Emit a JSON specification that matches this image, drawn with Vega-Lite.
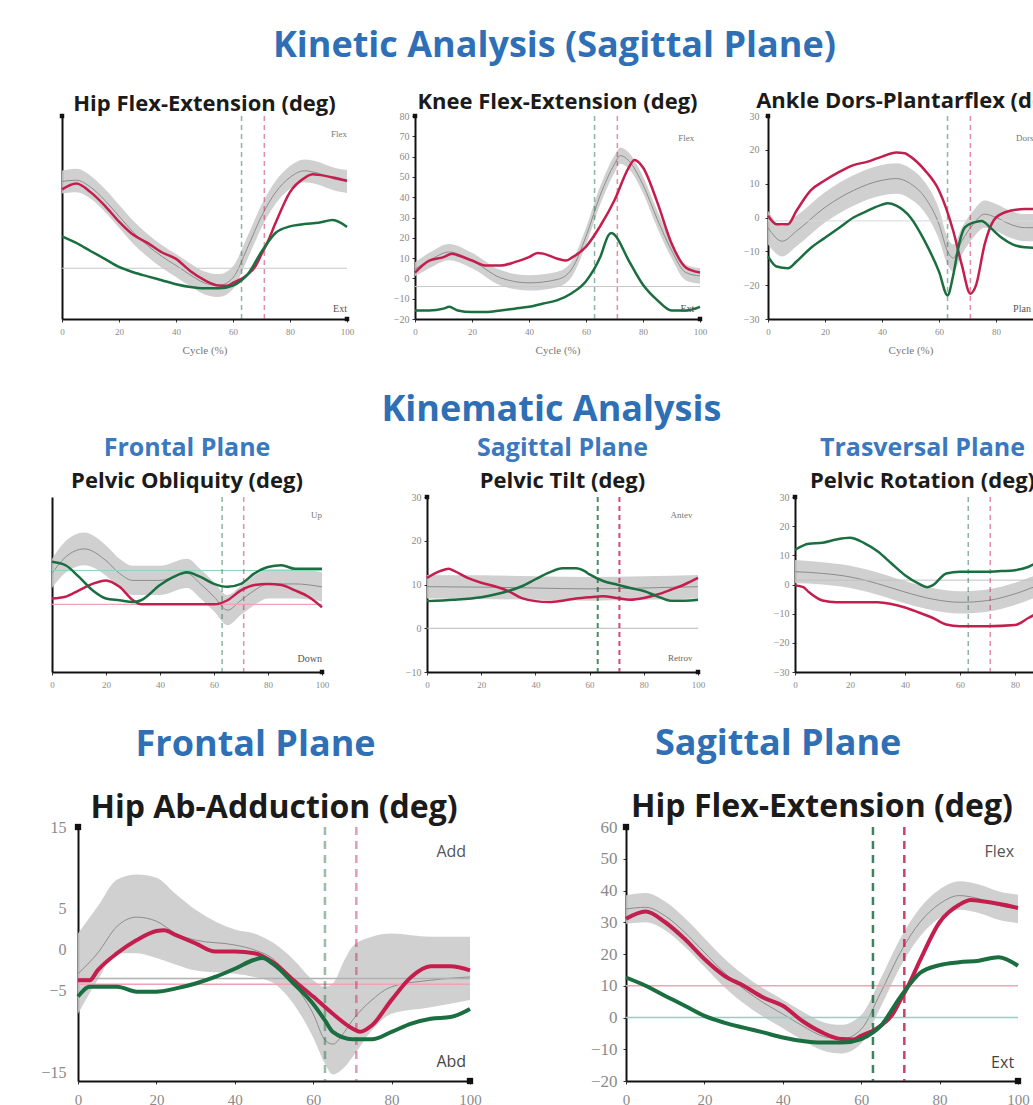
{
  "$schema": "https://vega.github.io/schema/vega-lite/v6.json",
  "background": "white",
  "padding": {"left": 2, "top": 28, "right": 0, "bottom": 0},
  "columns": 1,
  "spacing": 37,
  "config": {
    "view": {"stroke": null},
    "axis": {"grid": false, "domainColor": "#111111", "domainWidth": 2, "tickColor": "#333333", "labelFont": "Liberation Serif", "labelColor": "#8a8a8a", "labelOverlap": false, "titleFont": "Liberation Serif", "titleColor": "#777777", "titleFontWeight": "normal"},
    "title": {"font": "Open Sans", "fontWeight": "bold"}
  },
  "datasets": {
    "events": [{"side": "Right", "pct": 63}, {"side": "Left", "pct": 71}],
    "hip_norm": [
      {"x": 0, "mean": 34.2, "lo": 29.5, "hi": 38.5}, {"x": 5, "mean": 34.7, "lo": 30, "hi": 39.2}, {"x": 10, "mean": 32, "lo": 27.5, "hi": 36.5},
      {"x": 15, "mean": 26.8, "lo": 22.3, "hi": 31.3}, {"x": 20, "mean": 20.5, "lo": 16, "hi": 25}, {"x": 25, "mean": 14.2, "lo": 9.7, "hi": 18.7},
      {"x": 30, "mean": 9, "lo": 4.5, "hi": 13.5}, {"x": 35, "mean": 4.7, "lo": 0.2, "hi": 9.2}, {"x": 40, "mean": 1.1, "lo": -3.4, "hi": 5.6},
      {"x": 45, "mean": -2.6, "lo": -7.1, "hi": 1.9}, {"x": 50, "mean": -5.8, "lo": -10.3, "hi": -1.3}, {"x": 55, "mean": -6.8, "lo": -11.3, "hi": -2.3},
      {"x": 60, "mean": -3.7, "lo": -8.2, "hi": 0.8}, {"x": 65, "mean": 7.9, "lo": 3.4, "hi": 12.4}, {"x": 70, "mean": 20.5, "lo": 16, "hi": 25},
      {"x": 75, "mean": 30, "lo": 25.5, "hi": 34.5}, {"x": 80, "mean": 35.8, "lo": 31.3, "hi": 40.3}, {"x": 85, "mean": 38.4, "lo": 33.9, "hi": 42.9},
      {"x": 90, "mean": 37.4, "lo": 32.9, "hi": 41.9}, {"x": 95, "mean": 35.3, "lo": 30.8, "hi": 39.8}, {"x": 100, "mean": 34.2, "lo": 29.7, "hi": 38.7}
    ],
    "hip_sides": [
      {"x": 0, "side": "Left", "deg": 31.1}, {"x": 5, "side": "Left", "deg": 33.4}, {"x": 10, "side": "Left", "deg": 30}, {"x": 15, "side": "Left", "deg": 24.7},
      {"x": 20, "side": "Left", "deg": 18.4}, {"x": 25, "side": "Left", "deg": 13.2}, {"x": 30, "side": "Left", "deg": 10}, {"x": 35, "side": "Left", "deg": 6.3},
      {"x": 40, "side": "Left", "deg": 3.7}, {"x": 45, "side": "Left", "deg": -1.1}, {"x": 50, "side": "Left", "deg": -4.7}, {"x": 55, "side": "Left", "deg": -6.8},
      {"x": 58, "side": "Left", "deg": -6.9}, {"x": 60, "side": "Left", "deg": -5.8}, {"x": 65, "side": "Left", "deg": -2.6}, {"x": 68, "side": "Left", "deg": 1},
      {"x": 70, "side": "Left", "deg": 5.5}, {"x": 72, "side": "Left", "deg": 10}, {"x": 75, "side": "Left", "deg": 18}, {"x": 80, "side": "Left", "deg": 30},
      {"x": 85, "side": "Left", "deg": 35.5}, {"x": 88, "side": "Left", "deg": 37}, {"x": 90, "side": "Left", "deg": 36.8}, {"x": 95, "side": "Left", "deg": 35.8},
      {"x": 100, "side": "Left", "deg": 34.5},
      {"x": 0, "side": "Right", "deg": 12.6}, {"x": 5, "side": "Right", "deg": 10}, {"x": 10, "side": "Right", "deg": 6.8}, {"x": 15, "side": "Right", "deg": 3.7},
      {"x": 20, "side": "Right", "deg": 0.5}, {"x": 25, "side": "Right", "deg": -1.6}, {"x": 30, "side": "Right", "deg": -3.2}, {"x": 35, "side": "Right", "deg": -4.7},
      {"x": 40, "side": "Right", "deg": -6.3}, {"x": 45, "side": "Right", "deg": -7.4}, {"x": 50, "side": "Right", "deg": -7.9}, {"x": 55, "side": "Right", "deg": -7.9},
      {"x": 60, "side": "Right", "deg": -6.8}, {"x": 63, "side": "Right", "deg": -4.7}, {"x": 65, "side": "Right", "deg": -2.6}, {"x": 70, "side": "Right", "deg": 6.5},
      {"x": 75, "side": "Right", "deg": 14}, {"x": 80, "side": "Right", "deg": 16.5}, {"x": 85, "side": "Right", "deg": 17.4}, {"x": 90, "side": "Right", "deg": 17.9},
      {"x": 95, "side": "Right", "deg": 19}, {"x": 100, "side": "Right", "deg": 16.3}
    ],
    "knee_norm": [
      {"x": 0, "mean": 4.6, "lo": 1, "hi": 8}, {"x": 5, "mean": 8.8, "lo": 5, "hi": 12.6}, {"x": 12, "mean": 13, "lo": 9, "hi": 17},
      {"x": 20, "mean": 8.8, "lo": 5, "hi": 12.6}, {"x": 30, "mean": 0.3, "lo": -3.5, "hi": 4.1}, {"x": 40, "mean": -2.2, "lo": -6, "hi": 1.6},
      {"x": 50, "mean": -0.5, "lo": -4.3, "hi": 3.3}, {"x": 55, "mean": 4.6, "lo": 0.8, "hi": 8.4}, {"x": 60, "mean": 20.7, "lo": 16.5, "hi": 25},
      {"x": 65, "mean": 41, "lo": 36.5, "hi": 45.5}, {"x": 70, "mean": 56.3, "lo": 52, "hi": 60.6}, {"x": 72, "mean": 60.5, "lo": 56.5, "hi": 64.5},
      {"x": 75, "mean": 58, "lo": 54, "hi": 62}, {"x": 80, "mean": 46.1, "lo": 42, "hi": 50.2}, {"x": 85, "mean": 29.2, "lo": 25, "hi": 33.4},
      {"x": 90, "mean": 13.9, "lo": 10, "hi": 17.8}, {"x": 95, "mean": 2.9, "lo": -1, "hi": 6.8}, {"x": 100, "mean": 1.2, "lo": -2.6, "hi": 5}
    ],
    "knee_sides": [
      {"x": 0, "side": "Left", "deg": 2.9}, {"x": 5, "side": "Left", "deg": 8.8}, {"x": 10, "side": "Left", "deg": 10.5}, {"x": 13, "side": "Left", "deg": 12.2},
      {"x": 15, "side": "Left", "deg": 11.4}, {"x": 20, "side": "Left", "deg": 8.8}, {"x": 25, "side": "Left", "deg": 6.3}, {"x": 30, "side": "Left", "deg": 6.3},
      {"x": 35, "side": "Left", "deg": 8}, {"x": 40, "side": "Left", "deg": 10.5}, {"x": 43, "side": "Left", "deg": 12.5}, {"x": 45, "side": "Left", "deg": 12.2},
      {"x": 50, "side": "Left", "deg": 9.7}, {"x": 53, "side": "Left", "deg": 8.8}, {"x": 55, "side": "Left", "deg": 10.2}, {"x": 60, "side": "Left", "deg": 15.6},
      {"x": 65, "side": "Left", "deg": 25.8}, {"x": 70, "side": "Left", "deg": 38.5}, {"x": 75, "side": "Left", "deg": 54.6}, {"x": 77, "side": "Left", "deg": 58.3},
      {"x": 80, "side": "Left", "deg": 54.6}, {"x": 85, "side": "Left", "deg": 37.6}, {"x": 90, "side": "Left", "deg": 17.3}, {"x": 95, "side": "Left", "deg": 5.4},
      {"x": 100, "side": "Left", "deg": 2.9},
      {"x": 0, "side": "Right", "deg": -15.8}, {"x": 5, "side": "Right", "deg": -15.8}, {"x": 10, "side": "Right", "deg": -14.9}, {"x": 12, "side": "Right", "deg": -14},
      {"x": 15, "side": "Right", "deg": -15.8}, {"x": 20, "side": "Right", "deg": -16.6}, {"x": 25, "side": "Right", "deg": -16.6}, {"x": 30, "side": "Right", "deg": -15.8},
      {"x": 35, "side": "Right", "deg": -14.9}, {"x": 40, "side": "Right", "deg": -14}, {"x": 45, "side": "Right", "deg": -12.4}, {"x": 50, "side": "Right", "deg": -10.7},
      {"x": 55, "side": "Right", "deg": -7.3}, {"x": 60, "side": "Right", "deg": -1.4}, {"x": 65, "side": "Right", "deg": 10.5}, {"x": 68, "side": "Right", "deg": 21.5},
      {"x": 69, "side": "Right", "deg": 22.4}, {"x": 70, "side": "Right", "deg": 21.5}, {"x": 75, "side": "Right", "deg": 8.8}, {"x": 80, "side": "Right", "deg": -3.1},
      {"x": 85, "side": "Right", "deg": -10.7}, {"x": 90, "side": "Right", "deg": -15.8}, {"x": 95, "side": "Right", "deg": -15.8}, {"x": 100, "side": "Right", "deg": -14}
    ],
    "ankle_norm": [
      {"x": 0, "mean": -3, "lo": -8, "hi": 2}, {"x": 5, "mean": -7, "lo": -11.5, "hi": -2.5}, {"x": 10, "mean": -4, "lo": -8.5, "hi": 0.5},
      {"x": 20, "mean": 3, "lo": -1.5, "hi": 7.5}, {"x": 30, "mean": 8, "lo": 3.5, "hi": 12.5}, {"x": 40, "mean": 11, "lo": 6.5, "hi": 15.5},
      {"x": 45, "mean": 11.5, "lo": 7, "hi": 16}, {"x": 50, "mean": 10, "lo": 5.5, "hi": 14.5}, {"x": 55, "mean": 6, "lo": 1.5, "hi": 10.5},
      {"x": 60, "mean": -2, "lo": -6.5, "hi": 2.5}, {"x": 63, "mean": -10, "lo": -14, "hi": -6}, {"x": 65, "mean": -12, "lo": -16, "hi": -8},
      {"x": 68, "mean": -7, "lo": -11, "hi": -3}, {"x": 72, "mean": -2, "lo": -6, "hi": 2}, {"x": 76, "mean": 1, "lo": -3, "hi": 5},
      {"x": 80, "mean": 0, "lo": -4, "hi": 4}, {"x": 85, "mean": -2, "lo": -6, "hi": 2}, {"x": 90, "mean": -3, "lo": -7, "hi": 1}, {"x": 100, "mean": -3, "lo": -7, "hi": 1}
    ],
    "ankle_sides": [
      {"x": 0, "side": "Left", "deg": 0.5}, {"x": 3, "side": "Left", "deg": -2}, {"x": 7, "side": "Left", "deg": -2}, {"x": 10, "side": "Left", "deg": 2},
      {"x": 15, "side": "Left", "deg": 8}, {"x": 20, "side": "Left", "deg": 11}, {"x": 25, "side": "Left", "deg": 13.5}, {"x": 30, "side": "Left", "deg": 15.5},
      {"x": 35, "side": "Left", "deg": 16.5}, {"x": 40, "side": "Left", "deg": 18}, {"x": 45, "side": "Left", "deg": 19.2}, {"x": 48, "side": "Left", "deg": 19},
      {"x": 50, "side": "Left", "deg": 18}, {"x": 55, "side": "Left", "deg": 14}, {"x": 60, "side": "Left", "deg": 8}, {"x": 65, "side": "Left", "deg": -4},
      {"x": 68, "side": "Left", "deg": -14}, {"x": 71, "side": "Left", "deg": -22.5}, {"x": 73, "side": "Left", "deg": -20}, {"x": 76, "side": "Left", "deg": -8},
      {"x": 80, "side": "Left", "deg": 0}, {"x": 85, "side": "Left", "deg": 2}, {"x": 90, "side": "Left", "deg": 2.5}, {"x": 95, "side": "Left", "deg": 2.5},
      {"x": 100, "side": "Left", "deg": 2},
      {"x": 0, "side": "Right", "deg": -11.5}, {"x": 3, "side": "Right", "deg": -14.5}, {"x": 7, "side": "Right", "deg": -15}, {"x": 10, "side": "Right", "deg": -13},
      {"x": 15, "side": "Right", "deg": -9}, {"x": 20, "side": "Right", "deg": -6}, {"x": 25, "side": "Right", "deg": -3}, {"x": 30, "side": "Right", "deg": 0},
      {"x": 35, "side": "Right", "deg": 2}, {"x": 40, "side": "Right", "deg": 3.8}, {"x": 42, "side": "Right", "deg": 4.2}, {"x": 45, "side": "Right", "deg": 3.5},
      {"x": 50, "side": "Right", "deg": 0}, {"x": 55, "side": "Right", "deg": -7}, {"x": 60, "side": "Right", "deg": -16}, {"x": 63, "side": "Right", "deg": -23},
      {"x": 65, "side": "Right", "deg": -17}, {"x": 67, "side": "Right", "deg": -8}, {"x": 69, "side": "Right", "deg": -3}, {"x": 72, "side": "Right", "deg": -1.5},
      {"x": 75, "side": "Right", "deg": -1}, {"x": 78, "side": "Right", "deg": -3}, {"x": 82, "side": "Right", "deg": -6}, {"x": 86, "side": "Right", "deg": -8},
      {"x": 90, "side": "Right", "deg": -8.8}, {"x": 95, "side": "Right", "deg": -9}, {"x": 100, "side": "Right", "deg": -8.5}
    ],
    "obl_norm": [
      {"x": 0, "mean": 1.9, "lo": -0.6, "hi": 4.4}, {"x": 5, "mean": 4.7, "lo": 2, "hi": 7.4}, {"x": 12, "mean": 6.1, "lo": 3.3, "hi": 8.9},
      {"x": 20, "mean": 4.1, "lo": 1.5, "hi": 6.7}, {"x": 25, "mean": 1.9, "lo": -0.6, "hi": 4.4}, {"x": 30, "mean": 0.7, "lo": -1.8, "hi": 3.2},
      {"x": 40, "mean": 0.7, "lo": -1.8, "hi": 3.2}, {"x": 50, "mean": 1.9, "lo": -0.6, "hi": 4.4}, {"x": 55, "mean": 0.1, "lo": -2.4, "hi": 2.6},
      {"x": 60, "mean": -2.1, "lo": -4.6, "hi": 0.4}, {"x": 65, "mean": -4.4, "lo": -7, "hi": -1.8}, {"x": 70, "mean": -2.7, "lo": -5.2, "hi": -0.2},
      {"x": 75, "mean": -1, "lo": -3.5, "hi": 1.5}, {"x": 80, "mean": 0.1, "lo": -2.4, "hi": 2.6}, {"x": 90, "mean": 0.1, "lo": -2.4, "hi": 2.6},
      {"x": 100, "mean": -0.4, "lo": -2.9, "hi": 2.1}
    ],
    "obl_sides": [
      {"x": 0, "side": "Left", "deg": -2.4}, {"x": 5, "side": "Left", "deg": -2.1}, {"x": 10, "side": "Left", "deg": -1}, {"x": 15, "side": "Left", "deg": 0.1},
      {"x": 20, "side": "Left", "deg": 0.7}, {"x": 25, "side": "Left", "deg": -0.4}, {"x": 30, "side": "Left", "deg": -2.7}, {"x": 33, "side": "Left", "deg": -3.4},
      {"x": 40, "side": "Left", "deg": -3.4}, {"x": 50, "side": "Left", "deg": -3.4}, {"x": 60, "side": "Left", "deg": -3.4}, {"x": 65, "side": "Left", "deg": -2.7},
      {"x": 70, "side": "Left", "deg": -1}, {"x": 75, "side": "Left", "deg": -0.1}, {"x": 80, "side": "Left", "deg": 0.1}, {"x": 85, "side": "Left", "deg": -0.1},
      {"x": 90, "side": "Left", "deg": -1}, {"x": 95, "side": "Left", "deg": -2.1}, {"x": 100, "side": "Left", "deg": -3.9},
      {"x": 0, "side": "Right", "deg": 3.9}, {"x": 5, "side": "Right", "deg": 3.3}, {"x": 10, "side": "Right", "deg": 1.3}, {"x": 15, "side": "Right", "deg": -1},
      {"x": 20, "side": "Right", "deg": -2.4}, {"x": 25, "side": "Right", "deg": -2.7}, {"x": 30, "side": "Right", "deg": -3}, {"x": 33, "side": "Right", "deg": -2.7},
      {"x": 40, "side": "Right", "deg": -0.1}, {"x": 45, "side": "Right", "deg": 1.3}, {"x": 50, "side": "Right", "deg": 2.1}, {"x": 55, "side": "Right", "deg": 1.3},
      {"x": 60, "side": "Right", "deg": 0.1}, {"x": 65, "side": "Right", "deg": -0.4}, {"x": 70, "side": "Right", "deg": 0.1}, {"x": 75, "side": "Right", "deg": 1.9},
      {"x": 80, "side": "Right", "deg": 3}, {"x": 85, "side": "Right", "deg": 3.3}, {"x": 90, "side": "Right", "deg": 2.7}, {"x": 95, "side": "Right", "deg": 2.7},
      {"x": 100, "side": "Right", "deg": 2.7}
    ],
    "tilt_norm": [
      {"x": 0, "mean": 9.5, "lo": 6.8, "hi": 12.2}, {"x": 20, "mean": 9.4, "lo": 6.7, "hi": 12.1}, {"x": 40, "mean": 9.2, "lo": 6.5, "hi": 11.9},
      {"x": 60, "mean": 9, "lo": 6.3, "hi": 11.7}, {"x": 80, "mean": 9.2, "lo": 6.5, "hi": 11.9}, {"x": 100, "mean": 9.5, "lo": 6.8, "hi": 12.2}
    ],
    "tilt_sides": [
      {"x": 0, "side": "Left", "deg": 11.5}, {"x": 5, "side": "Left", "deg": 13.1}, {"x": 8, "side": "Left", "deg": 13.6}, {"x": 10, "side": "Left", "deg": 13.1},
      {"x": 15, "side": "Left", "deg": 11.5}, {"x": 20, "side": "Left", "deg": 10.4}, {"x": 25, "side": "Left", "deg": 9.6}, {"x": 30, "side": "Left", "deg": 8.5},
      {"x": 35, "side": "Left", "deg": 6.9}, {"x": 40, "side": "Left", "deg": 6.2}, {"x": 45, "side": "Left", "deg": 6}, {"x": 50, "side": "Left", "deg": 6.3},
      {"x": 55, "side": "Left", "deg": 6.8}, {"x": 60, "side": "Left", "deg": 7.1}, {"x": 65, "side": "Left", "deg": 7.3}, {"x": 70, "side": "Left", "deg": 6.9},
      {"x": 75, "side": "Left", "deg": 6.5}, {"x": 80, "side": "Left", "deg": 6.9}, {"x": 85, "side": "Left", "deg": 7.7}, {"x": 90, "side": "Left", "deg": 8.8},
      {"x": 95, "side": "Left", "deg": 10}, {"x": 100, "side": "Left", "deg": 11.5},
      {"x": 0, "side": "Right", "deg": 6.2}, {"x": 10, "side": "Right", "deg": 6.5}, {"x": 20, "side": "Right", "deg": 7.1}, {"x": 25, "side": "Right", "deg": 7.7},
      {"x": 30, "side": "Right", "deg": 8.5}, {"x": 35, "side": "Right", "deg": 9.6}, {"x": 40, "side": "Right", "deg": 11.2}, {"x": 45, "side": "Right", "deg": 12.7},
      {"x": 50, "side": "Right", "deg": 13.7}, {"x": 55, "side": "Right", "deg": 13.7}, {"x": 58, "side": "Right", "deg": 13.1}, {"x": 60, "side": "Right", "deg": 12.3},
      {"x": 65, "side": "Right", "deg": 10.8}, {"x": 70, "side": "Right", "deg": 10}, {"x": 75, "side": "Right", "deg": 9.2}, {"x": 80, "side": "Right", "deg": 8.5},
      {"x": 85, "side": "Right", "deg": 7.3}, {"x": 90, "side": "Right", "deg": 6.3}, {"x": 95, "side": "Right", "deg": 6.3}, {"x": 100, "side": "Right", "deg": 6.5}
    ],
    "rot_norm": [
      {"x": 0, "mean": 4.4, "lo": 0.4, "hi": 8.4}, {"x": 10, "mean": 3.8, "lo": 0, "hi": 7.6}, {"x": 20, "mean": 2.6, "lo": -1.2, "hi": 6.4},
      {"x": 30, "mean": 0.3, "lo": -3.5, "hi": 4.1}, {"x": 40, "mean": -2.6, "lo": -6.4, "hi": 1.2}, {"x": 50, "mean": -5, "lo": -8.8, "hi": -1.2},
      {"x": 60, "mean": -6.1, "lo": -9.9, "hi": -2.3}, {"x": 70, "mean": -5.5, "lo": -9.3, "hi": -1.7}, {"x": 80, "mean": -3.2, "lo": -7, "hi": 0.6},
      {"x": 90, "mean": 0, "lo": -3.8, "hi": 3.8}, {"x": 100, "mean": 1, "lo": -2.8, "hi": 4.8}
    ],
    "rot_sides": [
      {"x": 0, "side": "Left", "deg": -0.3}, {"x": 3, "side": "Left", "deg": -0.9}, {"x": 5, "side": "Left", "deg": -2.6}, {"x": 10, "side": "Left", "deg": -5.5},
      {"x": 15, "side": "Left", "deg": -6.1}, {"x": 20, "side": "Left", "deg": -6.1}, {"x": 25, "side": "Left", "deg": -6.1}, {"x": 30, "side": "Left", "deg": -6.1},
      {"x": 35, "side": "Left", "deg": -6.7}, {"x": 40, "side": "Left", "deg": -7.9}, {"x": 45, "side": "Left", "deg": -9.6}, {"x": 50, "side": "Left", "deg": -11.4},
      {"x": 55, "side": "Left", "deg": -13.7}, {"x": 60, "side": "Left", "deg": -14.3}, {"x": 70, "side": "Left", "deg": -14.3}, {"x": 80, "side": "Left", "deg": -13.9},
      {"x": 85, "side": "Left", "deg": -11.4}, {"x": 90, "side": "Left", "deg": -9}, {"x": 95, "side": "Left", "deg": -7.5}, {"x": 100, "side": "Left", "deg": -7},
      {"x": 0, "side": "Right", "deg": 11.9}, {"x": 5, "side": "Right", "deg": 14}, {"x": 10, "side": "Right", "deg": 14.3}, {"x": 15, "side": "Right", "deg": 15.4},
      {"x": 20, "side": "Right", "deg": 16}, {"x": 25, "side": "Right", "deg": 14.3}, {"x": 30, "side": "Right", "deg": 11.4}, {"x": 35, "side": "Right", "deg": 7.3},
      {"x": 40, "side": "Right", "deg": 3.2}, {"x": 45, "side": "Right", "deg": 0.3}, {"x": 48, "side": "Right", "deg": -0.9}, {"x": 50, "side": "Right", "deg": -0.3},
      {"x": 55, "side": "Right", "deg": 3.8}, {"x": 60, "side": "Right", "deg": 4.4}, {"x": 65, "side": "Right", "deg": 4.4}, {"x": 70, "side": "Right", "deg": 4.4},
      {"x": 75, "side": "Right", "deg": 4.6}, {"x": 80, "side": "Right", "deg": 4.9}, {"x": 85, "side": "Right", "deg": 6.1}, {"x": 90, "side": "Right", "deg": 8.5},
      {"x": 95, "side": "Right", "deg": 10}, {"x": 100, "side": "Right", "deg": 10}
    ],
    "abd_norm": [
      {"x": 0, "mean": -2.9, "lo": -7.8, "hi": 2}, {"x": 5, "mean": -0.4, "lo": -3.7, "hi": 5.3}, {"x": 10, "mean": 2.9, "lo": -0.4, "hi": 8.6},
      {"x": 15, "mean": 4, "lo": -0.4, "hi": 9.2}, {"x": 20, "mean": 3.5, "lo": -1, "hi": 8.8}, {"x": 25, "mean": 2, "lo": -1.8, "hi": 6.8},
      {"x": 30, "mean": 1.2, "lo": -2.5, "hi": 4.9}, {"x": 40, "mean": 0.6, "lo": -2.9, "hi": 2.5}, {"x": 45, "mean": 0, "lo": -3.3, "hi": 2},
      {"x": 50, "mean": -1.2, "lo": -4.1, "hi": 0.8}, {"x": 55, "mean": -4.1, "lo": -6.6, "hi": -1.2}, {"x": 60, "mean": -7.8, "lo": -10.7, "hi": -3.7},
      {"x": 63, "mean": -11, "lo": -13.9, "hi": -4.5}, {"x": 65, "mean": -11.5, "lo": -15.2, "hi": -4.1}, {"x": 68, "mean": -10, "lo": -14.3, "hi": -1.2},
      {"x": 70, "mean": -8.6, "lo": -13.1, "hi": 0.4}, {"x": 75, "mean": -6.1, "lo": -9.8, "hi": 1.6}, {"x": 80, "mean": -4.5, "lo": -7.8, "hi": 2},
      {"x": 90, "mean": -3.7, "lo": -7, "hi": 1.6}, {"x": 100, "mean": -3.3, "lo": -6.1, "hi": 1.6}
    ],
    "abd_sides": [
      {"x": 0, "side": "Left", "deg": -3.7}, {"x": 3, "side": "Left", "deg": -3.7}, {"x": 5, "side": "Left", "deg": -2.5}, {"x": 10, "side": "Left", "deg": -0.4},
      {"x": 15, "side": "Left", "deg": 1.2}, {"x": 20, "side": "Left", "deg": 2.3}, {"x": 22, "side": "Left", "deg": 2.4}, {"x": 25, "side": "Left", "deg": 1.8},
      {"x": 30, "side": "Left", "deg": 0.8}, {"x": 35, "side": "Left", "deg": -0.2}, {"x": 40, "side": "Left", "deg": -0.2}, {"x": 45, "side": "Left", "deg": -0.4},
      {"x": 50, "side": "Left", "deg": -1.6}, {"x": 55, "side": "Left", "deg": -3.7}, {"x": 60, "side": "Left", "deg": -5.7}, {"x": 65, "side": "Left", "deg": -7.8},
      {"x": 70, "side": "Left", "deg": -9.6}, {"x": 72, "side": "Left", "deg": -10}, {"x": 75, "side": "Left", "deg": -9.2}, {"x": 80, "side": "Left", "deg": -6.1},
      {"x": 85, "side": "Left", "deg": -3.3}, {"x": 90, "side": "Left", "deg": -2}, {"x": 95, "side": "Left", "deg": -2}, {"x": 100, "side": "Left", "deg": -2.5},
      {"x": 0, "side": "Right", "deg": -5.7}, {"x": 3, "side": "Right", "deg": -4.5}, {"x": 10, "side": "Right", "deg": -4.5}, {"x": 15, "side": "Right", "deg": -5.1},
      {"x": 20, "side": "Right", "deg": -5.1}, {"x": 25, "side": "Right", "deg": -4.7}, {"x": 30, "side": "Right", "deg": -4.1}, {"x": 35, "side": "Right", "deg": -3.3},
      {"x": 40, "side": "Right", "deg": -2.3}, {"x": 45, "side": "Right", "deg": -1.2}, {"x": 47, "side": "Right", "deg": -1}, {"x": 50, "side": "Right", "deg": -1.8},
      {"x": 55, "side": "Right", "deg": -4.1}, {"x": 60, "side": "Right", "deg": -6.6}, {"x": 63, "side": "Right", "deg": -8.6}, {"x": 65, "side": "Right", "deg": -10},
      {"x": 70, "side": "Right", "deg": -10.9}, {"x": 75, "side": "Right", "deg": -10.9}, {"x": 80, "side": "Right", "deg": -10}, {"x": 85, "side": "Right", "deg": -9},
      {"x": 90, "side": "Right", "deg": -8.4}, {"x": 95, "side": "Right", "deg": -8.2}, {"x": 100, "side": "Right", "deg": -7.2}
    ]
  },
  "concat": [
    {
      "spacing": 0,
      "hconcat": [
        {"width": 30, "height": 1, "data": {"values": []}, "mark": "point"},
        {
          "title": {"text": "Kinetic Analysis (Sagittal Plane)", "fontSize": 36, "color": "#2f6fb6", "anchor": "middle", "offset": 25, "dx": 6},
          "spacing": 31,
          "hconcat": [
            {
              "width": 285, "height": 203,
              "title": {"text": "Hip Flex-Extension (deg)", "fontSize": 22, "color": "#1b1b1b", "anchor": "middle", "frame": "group", "offset": -2},
              "layer": [
                {"data": {"name": "hip_norm"}, "mark": {"type": "area", "color": "#cbcbcb", "opacity": 0.9, "interpolate": "monotone"},
                 "encoding": {
                   "x": {"field": "x", "type": "quantitative", "title": "Cycle (%)", "scale": {"domain": [0, 100], "nice": false}, "axis": {"values": [0, 20, 40, 60, 80, 100], "tickCount": 20, "labelFontSize": 9, "tickSize": 3, "labelPadding": 5, "labelFlush": false, "titleFontSize": 11, "titlePadding": 8}},
                   "y": {"field": "lo", "type": "quantitative", "title": null, "scale": {"domain": [-20, 60], "nice": false}, "axis": {"labels": false, "ticks": false, "minExtent": 30}},
                   "y2": {"field": "hi"}}},
                {"data": {"name": "hip_norm"}, "mark": {"type": "line", "color": "#8c8c8c", "strokeWidth": 1, "interpolate": "monotone"},
                 "encoding": {"x": {"field": "x", "type": "quantitative", "title": "Cycle (%)"}, "y": {"field": "mean", "type": "quantitative", "title": null}}},
                {"data": {"values": [{"ref": 0}]}, "mark": {"type": "rule", "color": "#c8c8c8", "strokeWidth": 1},
                 "encoding": {"y": {"field": "ref", "type": "quantitative", "title": null}}},
                {"data": {"name": "events"}, "mark": {"type": "rule", "strokeDash": [5, 4], "strokeWidth": 1.5, "opacity": 0.5},
                 "encoding": {"x": {"field": "pct", "type": "quantitative", "title": "Cycle (%)"}, "color": {"field": "side", "type": "nominal", "scale": {"domain": ["Left", "Right"], "range": ["#c41e4e", "#1a6e40"]}, "legend": null}}},
                {"data": {"name": "hip_sides"}, "mark": {"type": "line", "strokeWidth": 2.5, "interpolate": "monotone"},
                 "encoding": {"x": {"field": "x", "type": "quantitative", "title": "Cycle (%)"}, "y": {"field": "deg", "type": "quantitative", "title": null},
                   "color": {"field": "side", "type": "nominal", "scale": {"domain": ["Left", "Right"], "range": ["#c41e4e", "#1a6e40"]}, "legend": null}}},
                {"data": {"values": [{"label": "Flex"}]}, "mark": {"type": "text", "align": "right", "baseline": "middle", "fontSize": 9, "font": "Liberation Serif", "color": "#777777"},
                 "encoding": {"x": {"datum": 100, "title": "Cycle (%)"}, "y": {"datum": 53, "title": null}, "text": {"field": "label"}}},
                {"data": {"values": [{"label": "Ext"}]}, "mark": {"type": "text", "align": "right", "baseline": "middle", "fontSize": 10, "font": "Liberation Serif", "color": "#555555"},
                 "encoding": {"x": {"datum": 100, "title": "Cycle (%)"}, "y": {"datum": -16, "title": null}, "text": {"field": "label"}}},
                {"data": {"values": [{"end": "x"}]}, "mark": {"type": "square", "size": 20, "color": "#111111", "opacity": 1},
                 "encoding": {"x": {"datum": 100, "title": "Cycle (%)"}, "y": {"datum": -20, "title": null}}},
                {"data": {"values": [{"end": "y"}]}, "mark": {"type": "square", "size": 20, "color": "#111111", "opacity": 1},
                 "encoding": {"x": {"datum": 0, "title": "Cycle (%)"}, "y": {"datum": 60, "title": null}}}
              ]
            },
            {
              "width": 285, "height": 203,
              "title": {"text": "Knee Flex-Extension (deg)", "fontSize": 22, "color": "#1b1b1b", "anchor": "middle", "frame": "group", "offset": -3},
              "layer": [
                {"data": {"name": "knee_norm"}, "mark": {"type": "area", "color": "#cbcbcb", "opacity": 0.9, "interpolate": "monotone"},
                 "encoding": {
                   "x": {"field": "x", "type": "quantitative", "title": "Cycle (%)", "scale": {"domain": [0, 100], "nice": false}, "axis": {"values": [0, 20, 40, 60, 80, 100], "tickCount": 20, "labelFontSize": 9, "tickSize": 3, "labelPadding": 5, "labelFlush": false, "titleFontSize": 11, "titlePadding": 8}},
                   "y": {"field": "lo", "type": "quantitative", "title": null, "scale": {"domain": [-20, 80], "nice": false}, "axis": {"values": [80, 70, 60, 50, 40, 30, 20, 10, 0, -10, -20], "tickCount": 20, "labelFontSize": 10, "tickSize": 3, "labelPadding": 3, "minExtent": 30}},
                   "y2": {"field": "hi"}}},
                {"data": {"name": "knee_norm"}, "mark": {"type": "line", "color": "#8c8c8c", "strokeWidth": 1, "interpolate": "monotone"},
                 "encoding": {"x": {"field": "x", "type": "quantitative", "title": "Cycle (%)"}, "y": {"field": "mean", "type": "quantitative", "title": null}}},
                {"data": {"values": [{"ref": -4}]}, "mark": {"type": "rule", "color": "#c8c8c8", "strokeWidth": 1},
                 "encoding": {"y": {"field": "ref", "type": "quantitative", "title": null}}},
                {"data": {"name": "events"}, "mark": {"type": "rule", "strokeDash": [5, 4], "strokeWidth": 1.5, "opacity": 0.5},
                 "encoding": {"x": {"field": "pct", "type": "quantitative", "title": "Cycle (%)"}, "color": {"field": "side", "type": "nominal", "scale": {"domain": ["Left", "Right"], "range": ["#c41e4e", "#1a6e40"]}, "legend": null}}},
                {"data": {"name": "knee_sides"}, "mark": {"type": "line", "strokeWidth": 2.5, "interpolate": "monotone"},
                 "encoding": {"x": {"field": "x", "type": "quantitative", "title": "Cycle (%)"}, "y": {"field": "deg", "type": "quantitative", "title": null},
                   "color": {"field": "side", "type": "nominal", "scale": {"domain": ["Left", "Right"], "range": ["#c41e4e", "#1a6e40"]}, "legend": null}}},
                {"data": {"values": [{"label": "Flex"}]}, "mark": {"type": "text", "align": "right", "baseline": "middle", "fontSize": 9, "font": "Liberation Serif", "color": "#777777"},
                 "encoding": {"x": {"datum": 98, "title": "Cycle (%)"}, "y": {"datum": 69, "title": null}, "text": {"field": "label"}}},
                {"data": {"values": [{"label": "Ext"}]}, "mark": {"type": "text", "align": "right", "baseline": "middle", "fontSize": 10, "font": "Liberation Serif", "color": "#555555"},
                 "encoding": {"x": {"datum": 98, "title": "Cycle (%)"}, "y": {"datum": -15, "title": null}, "text": {"field": "label"}}},
                {"data": {"values": [{"end": "x"}]}, "mark": {"type": "square", "size": 20, "color": "#111111", "opacity": 1},
                 "encoding": {"x": {"datum": 100, "title": "Cycle (%)"}, "y": {"datum": -20, "title": null}}},
                {"data": {"values": [{"end": "y"}]}, "mark": {"type": "square", "size": 20, "color": "#111111", "opacity": 1},
                 "encoding": {"x": {"datum": 0, "title": "Cycle (%)"}, "y": {"datum": 80, "title": null}}}
              ]
            },
            {
              "width": 285, "height": 203,
              "title": {"text": "Ankle Dors-Plantarflex (deg)", "fontSize": 22, "color": "#1b1b1b", "anchor": "middle", "frame": "group", "offset": -2},
              "layer": [
                {"data": {"name": "ankle_norm"}, "mark": {"type": "area", "color": "#cbcbcb", "opacity": 0.9, "interpolate": "monotone"},
                 "encoding": {
                   "x": {"field": "x", "type": "quantitative", "title": "Cycle (%)", "scale": {"domain": [0, 100], "nice": false}, "axis": {"values": [0, 20, 40, 60, 80, 100], "tickCount": 20, "labelFontSize": 9, "tickSize": 3, "labelPadding": 5, "labelFlush": false, "titleFontSize": 11, "titlePadding": 8}},
                   "y": {"field": "lo", "type": "quantitative", "title": null, "scale": {"domain": [-30, 30], "nice": false}, "axis": {"values": [30, 20, 10, 0, -10, -20, -30], "tickCount": 20, "labelFontSize": 10, "tickSize": 3, "labelPadding": 6, "minExtent": 30}},
                   "y2": {"field": "hi"}}},
                {"data": {"name": "ankle_norm"}, "mark": {"type": "line", "color": "#8c8c8c", "strokeWidth": 1, "interpolate": "monotone"},
                 "encoding": {"x": {"field": "x", "type": "quantitative", "title": "Cycle (%)"}, "y": {"field": "mean", "type": "quantitative", "title": null}}},
                {"data": {"values": [{"ref": -1}]}, "mark": {"type": "rule", "color": "#d8d8d8", "strokeWidth": 1},
                 "encoding": {"y": {"field": "ref", "type": "quantitative", "title": null}}},
                {"data": {"name": "events"}, "mark": {"type": "rule", "strokeDash": [5, 4], "strokeWidth": 1.5, "opacity": 0.5},
                 "encoding": {"x": {"field": "pct", "type": "quantitative", "title": "Cycle (%)"}, "color": {"field": "side", "type": "nominal", "scale": {"domain": ["Left", "Right"], "range": ["#c41e4e", "#1a6e40"]}, "legend": null}}},
                {"data": {"name": "ankle_sides"}, "mark": {"type": "line", "strokeWidth": 2.5, "interpolate": "monotone"},
                 "encoding": {"x": {"field": "x", "type": "quantitative", "title": "Cycle (%)"}, "y": {"field": "deg", "type": "quantitative", "title": null},
                   "color": {"field": "side", "type": "nominal", "scale": {"domain": ["Left", "Right"], "range": ["#c41e4e", "#1a6e40"]}, "legend": null}}},
                {"data": {"values": [{"label": "Dors"}]}, "mark": {"type": "text", "align": "left", "baseline": "middle", "fontSize": 9, "font": "Liberation Serif", "color": "#777777"},
                 "encoding": {"x": {"datum": 87, "title": "Cycle (%)"}, "y": {"datum": 23.4, "title": null}, "text": {"field": "label"}}},
                {"data": {"values": [{"label": "Plan"}]}, "mark": {"type": "text", "align": "left", "baseline": "middle", "fontSize": 10, "font": "Liberation Serif", "color": "#555555"},
                 "encoding": {"x": {"datum": 86, "title": "Cycle (%)"}, "y": {"datum": -27, "title": null}, "text": {"field": "label"}}},
                {"data": {"values": [{"end": "y"}]}, "mark": {"type": "square", "size": 20, "color": "#111111", "opacity": 1},
                 "encoding": {"x": {"datum": 0, "title": "Cycle (%)"}, "y": {"datum": 30, "title": null}}}
              ]
            }
          ]
        }
      ]
    },
    {
      "spacing": 0,
      "hconcat": [
        {"width": 20, "height": 1, "data": {"values": []}, "mark": "point"},
        {
          "title": {"text": "Kinematic Analysis", "fontSize": 36, "color": "#2f6fb6", "anchor": "middle", "offset": 7, "dx": 2},
          "spacing": 68,
          "hconcat": [
            {
              "width": 270, "height": 175,
              "title": {"text": "Frontal Plane", "subtitle": "Pelvic Obliquity (deg)", "fontSize": 25, "color": "#3a78c0", "subtitleFont": "Open Sans", "subtitleFontWeight": "bold", "subtitleFontSize": 22, "subtitleColor": "#1b1b1b", "subtitlePadding": 10, "anchor": "middle", "frame": "group", "offset": 4},
              "layer": [
                {"data": {"name": "obl_norm"}, "mark": {"type": "area", "color": "#cbcbcb", "opacity": 0.9, "interpolate": "monotone"},
                 "encoding": {
                   "x": {"field": "x", "type": "quantitative", "title": null, "scale": {"domain": [0, 100], "nice": false}, "axis": {"values": [0, 20, 40, 60, 80, 100], "tickCount": 20, "labelFontSize": 9, "tickSize": 3, "labelPadding": 5, "labelFlush": false}},
                   "y": {"field": "lo", "type": "quantitative", "title": null, "scale": {"domain": [-15, 15], "nice": false}, "axis": {"labels": false, "ticks": false, "minExtent": 30}},
                   "y2": {"field": "hi"}}},
                {"data": {"name": "obl_norm"}, "mark": {"type": "line", "color": "#8c8c8c", "strokeWidth": 1, "interpolate": "monotone"},
                 "encoding": {"x": {"field": "x", "type": "quantitative", "title": null}, "y": {"field": "mean", "type": "quantitative", "title": null}}},
                {"data": {"values": [{"ref": 2.4}]}, "mark": {"type": "rule", "color": "#8fd3c3", "strokeWidth": 1.2},
                 "encoding": {"y": {"field": "ref", "type": "quantitative", "title": null}}},
                {"data": {"values": [{"ref": -3.4}]}, "mark": {"type": "rule", "color": "#efa3b5", "strokeWidth": 1.2},
                 "encoding": {"y": {"field": "ref", "type": "quantitative", "title": null}}},
                {"data": {"name": "events"}, "mark": {"type": "rule", "strokeDash": [5, 4], "strokeWidth": 1.5, "opacity": 0.5},
                 "encoding": {"x": {"field": "pct", "type": "quantitative", "title": null}, "color": {"field": "side", "type": "nominal", "scale": {"domain": ["Left", "Right"], "range": ["#c41e4e", "#1a6e40"]}, "legend": null}}},
                {"data": {"name": "obl_sides"}, "mark": {"type": "line", "strokeWidth": 2.5, "interpolate": "monotone"},
                 "encoding": {"x": {"field": "x", "type": "quantitative", "title": null}, "y": {"field": "deg", "type": "quantitative", "title": null},
                   "color": {"field": "side", "type": "nominal", "scale": {"domain": ["Left", "Right"], "range": ["#c41e4e", "#1a6e40"]}, "legend": null}}},
                {"data": {"values": [{"label": "Up"}]}, "mark": {"type": "text", "align": "right", "baseline": "middle", "fontSize": 9, "font": "Liberation Serif", "color": "#777777"},
                 "encoding": {"x": {"datum": 100, "title": null}, "y": {"datum": 11.9, "title": null}, "text": {"field": "label"}}},
                {"data": {"values": [{"label": "Down"}]}, "mark": {"type": "text", "align": "right", "baseline": "middle", "fontSize": 10, "font": "Liberation Serif", "color": "#555555"},
                 "encoding": {"x": {"datum": 100, "title": null}, "y": {"datum": -12.7, "title": null}, "text": {"field": "label"}}},
                {"data": {"values": [{"end": "x"}]}, "mark": {"type": "square", "size": 20, "color": "#111111", "opacity": 1},
                 "encoding": {"x": {"datum": 100, "title": null}, "y": {"datum": -15, "title": null}}}
              ]
            },
            {
              "width": 271, "height": 175,
              "title": {"text": "Sagittal Plane", "subtitle": "Pelvic Tilt (deg)", "fontSize": 25, "color": "#3a78c0", "subtitleFont": "Open Sans", "subtitleFontWeight": "bold", "subtitleFontSize": 22, "subtitleColor": "#1b1b1b", "subtitlePadding": 10, "anchor": "middle", "frame": "group", "offset": 0},
              "layer": [
                {"data": {"name": "tilt_norm"}, "mark": {"type": "area", "color": "#cbcbcb", "opacity": 0.9, "interpolate": "monotone"},
                 "encoding": {
                   "x": {"field": "x", "type": "quantitative", "title": null, "scale": {"domain": [0, 100], "nice": false}, "axis": {"values": [0, 20, 40, 60, 80, 100], "tickCount": 20, "labelFontSize": 9, "tickSize": 3, "labelPadding": 5, "labelFlush": false}},
                   "y": {"field": "lo", "type": "quantitative", "title": null, "scale": {"domain": [-10, 30], "nice": false}, "axis": {"values": [30, 20, 10, 0, -10], "tickCount": 20, "labelFontSize": 10, "tickSize": 3, "labelPadding": 3, "minExtent": 30}},
                   "y2": {"field": "hi"}}},
                {"data": {"name": "tilt_norm"}, "mark": {"type": "line", "color": "#8c8c8c", "strokeWidth": 1, "interpolate": "monotone"},
                 "encoding": {"x": {"field": "x", "type": "quantitative", "title": null}, "y": {"field": "mean", "type": "quantitative", "title": null}}},
                {"data": {"values": [{"ref": 0}]}, "mark": {"type": "rule", "color": "#b8b8b8", "strokeWidth": 1},
                 "encoding": {"y": {"field": "ref", "type": "quantitative", "title": null}}},
                {"data": {"name": "events"}, "mark": {"type": "rule", "strokeDash": [5, 4], "strokeWidth": 2, "opacity": 0.8},
                 "encoding": {"x": {"field": "pct", "type": "quantitative", "title": null}, "color": {"field": "side", "type": "nominal", "scale": {"domain": ["Left", "Right"], "range": ["#c41e4e", "#1a6e40"]}, "legend": null}}},
                {"data": {"name": "tilt_sides"}, "mark": {"type": "line", "strokeWidth": 2.5, "interpolate": "monotone"},
                 "encoding": {"x": {"field": "x", "type": "quantitative", "title": null}, "y": {"field": "deg", "type": "quantitative", "title": null},
                   "color": {"field": "side", "type": "nominal", "scale": {"domain": ["Left", "Right"], "range": ["#c41e4e", "#1a6e40"]}, "legend": null}}},
                {"data": {"values": [{"label": "Antev"}]}, "mark": {"type": "text", "align": "right", "baseline": "middle", "fontSize": 9, "font": "Liberation Serif", "color": "#777777"},
                 "encoding": {"x": {"datum": 98, "title": null}, "y": {"datum": 25.8, "title": null}, "text": {"field": "label"}}},
                {"data": {"values": [{"label": "Retrov"}]}, "mark": {"type": "text", "align": "right", "baseline": "middle", "fontSize": 9, "font": "Liberation Serif", "color": "#666666"},
                 "encoding": {"x": {"datum": 98, "title": null}, "y": {"datum": -6.9, "title": null}, "text": {"field": "label"}}},
                {"data": {"values": [{"end": "x"}]}, "mark": {"type": "square", "size": 20, "color": "#111111", "opacity": 1},
                 "encoding": {"x": {"datum": 100, "title": null}, "y": {"datum": -10, "title": null}}},
                {"data": {"values": [{"end": "y"}]}, "mark": {"type": "square", "size": 20, "color": "#111111", "opacity": 1},
                 "encoding": {"x": {"datum": 0, "title": null}, "y": {"datum": 30, "title": null}}}
              ]
            },
            {
              "width": 275, "height": 175,
              "title": {"text": "Trasversal Plane", "subtitle": "Pelvic Rotation (deg)", "fontSize": 25, "color": "#3a78c0", "subtitleFont": "Open Sans", "subtitleFontWeight": "bold", "subtitleFontSize": 22, "subtitleColor": "#1b1b1b", "subtitlePadding": 10, "anchor": "middle", "frame": "group", "offset": 0, "dx": -10},
              "layer": [
                {"data": {"name": "rot_norm"}, "mark": {"type": "area", "color": "#cbcbcb", "opacity": 0.9, "interpolate": "monotone"},
                 "encoding": {
                   "x": {"field": "x", "type": "quantitative", "title": null, "scale": {"domain": [0, 100], "nice": false}, "axis": {"values": [0, 20, 40, 60, 80, 100], "tickCount": 20, "labelFontSize": 9, "tickSize": 3, "labelPadding": 5, "labelFlush": false}},
                   "y": {"field": "lo", "type": "quantitative", "title": null, "scale": {"domain": [-30, 30], "nice": false}, "axis": {"values": [30, 20, 10, 0, -10, -20, -30], "tickCount": 20, "labelFontSize": 10, "tickSize": 3, "labelPadding": 3, "minExtent": 20}},
                   "y2": {"field": "hi"}}},
                {"data": {"name": "rot_norm"}, "mark": {"type": "line", "color": "#8c8c8c", "strokeWidth": 1, "interpolate": "monotone"},
                 "encoding": {"x": {"field": "x", "type": "quantitative", "title": null}, "y": {"field": "mean", "type": "quantitative", "title": null}}},
                {"data": {"values": [{"ref": 1.5}]}, "mark": {"type": "rule", "color": "#c0c0c0", "strokeWidth": 1},
                 "encoding": {"y": {"field": "ref", "type": "quantitative", "title": null}}},
                {"data": {"name": "events"}, "mark": {"type": "rule", "strokeDash": [5, 4], "strokeWidth": 1.5, "opacity": 0.5},
                 "encoding": {"x": {"field": "pct", "type": "quantitative", "title": null}, "color": {"field": "side", "type": "nominal", "scale": {"domain": ["Left", "Right"], "range": ["#c41e4e", "#1a6e40"]}, "legend": null}}},
                {"data": {"name": "rot_sides"}, "mark": {"type": "line", "strokeWidth": 2.5, "interpolate": "monotone"},
                 "encoding": {"x": {"field": "x", "type": "quantitative", "title": null}, "y": {"field": "deg", "type": "quantitative", "title": null},
                   "color": {"field": "side", "type": "nominal", "scale": {"domain": ["Left", "Right"], "range": ["#c41e4e", "#1a6e40"]}, "legend": null}}},
                {"data": {"values": [{"end": "y"}]}, "mark": {"type": "square", "size": 20, "color": "#111111", "opacity": 1},
                 "encoding": {"x": {"datum": 0, "title": null}, "y": {"datum": 30, "title": null}}}
              ]
            }
          ]
        }
      ]
    },
    {
      "spacing": 0,
      "hconcat": [
        {"width": 36, "height": 1, "data": {"values": []}, "mark": "point"},
        {
          "spacing": 99,
          "hconcat": [
            {
              "title": {"text": "Frontal Plane", "fontSize": 36, "color": "#2f6fb6", "anchor": "middle", "offset": 28, "dx": -4},
              "vconcat": [
                {
                  "width": 392, "height": 254,
                  "title": {"text": "Hip Ab-Adduction (deg)", "fontSize": 32, "color": "#1b1b1b", "anchor": "middle", "frame": "group", "offset": -6},
                  "layer": [
                    {"data": {"name": "abd_norm"}, "mark": {"type": "area", "color": "#cbcbcb", "opacity": 0.9, "interpolate": "monotone"},
                     "encoding": {
                       "x": {"field": "x", "type": "quantitative", "title": null, "scale": {"domain": [0, 100], "nice": false}, "axis": {"values": [0, 20, 40, 60, 80, 100], "tickCount": 20, "labelFontSize": 15, "tickSize": 3, "labelPadding": 8, "labelFlush": false}},
                       "y": {"field": "lo", "type": "quantitative", "title": null, "scale": {"domain": [-16, 15], "nice": false}, "axis": {"values": [15, 5, 0, -5, -15], "tickCount": 20, "labelFontSize": 16, "tickSize": 0, "labelPadding": 12, "minExtent": 40}},
                       "y2": {"field": "hi"}}},
                    {"data": {"name": "abd_norm"}, "mark": {"type": "line", "color": "#8c8c8c", "strokeWidth": 1, "interpolate": "monotone"},
                     "encoding": {"x": {"field": "x", "type": "quantitative", "title": null}, "y": {"field": "mean", "type": "quantitative", "title": null}}},
                    {"data": {"values": [{"ref": -3.5}]}, "mark": {"type": "rule", "color": "#b0b0b0", "strokeWidth": 1.5},
                     "encoding": {"y": {"field": "ref", "type": "quantitative", "title": null}}},
                    {"data": {"values": [{"ref": -4.2}]}, "mark": {"type": "rule", "color": "#efa3b5", "strokeWidth": 1.5},
                     "encoding": {"y": {"field": "ref", "type": "quantitative", "title": null}}},
                    {"data": {"name": "events"}, "mark": {"type": "rule", "strokeDash": [8, 6], "strokeWidth": 2.5, "opacity": 0.45},
                     "encoding": {"x": {"field": "pct", "type": "quantitative", "title": null}, "color": {"field": "side", "type": "nominal", "scale": {"domain": ["Left", "Right"], "range": ["#c41e4e", "#1a6e40"]}, "legend": null}}},
                    {"data": {"name": "abd_sides"}, "mark": {"type": "line", "strokeWidth": 4, "interpolate": "monotone"},
                     "encoding": {"x": {"field": "x", "type": "quantitative", "title": null}, "y": {"field": "deg", "type": "quantitative", "title": null},
                       "color": {"field": "side", "type": "nominal", "scale": {"domain": ["Left", "Right"], "range": ["#c41e4e", "#1a6e40"]}, "legend": null}}},
                    {"data": {"values": [{"label": "Add"}]}, "mark": {"type": "text", "align": "right", "baseline": "middle", "fontSize": 16, "font": "Open Sans", "color": "#555555"},
                     "encoding": {"x": {"datum": 99, "title": null}, "y": {"datum": 11.9, "title": null}, "text": {"field": "label"}}},
                    {"data": {"values": [{"label": "Abd"}]}, "mark": {"type": "text", "align": "right", "baseline": "middle", "fontSize": 16, "font": "Open Sans", "color": "#444444"},
                     "encoding": {"x": {"datum": 99, "title": null}, "y": {"datum": -13.7, "title": null}, "text": {"field": "label"}}},
                    {"data": {"values": [{"end": "x"}]}, "mark": {"type": "square", "size": 40, "color": "#111111", "opacity": 1},
                     "encoding": {"x": {"datum": 100, "title": null}, "y": {"datum": -16, "title": null}}},
                    {"data": {"values": [{"end": "y"}]}, "mark": {"type": "square", "size": 40, "color": "#111111", "opacity": 1},
                     "encoding": {"x": {"datum": 0, "title": null}, "y": {"datum": 15, "title": null}}}
                  ]
                }
              ]
            },
            {
              "title": {"text": "Sagittal Plane", "fontSize": 36, "color": "#2f6fb6", "anchor": "middle", "offset": 28, "dx": -27},
              "vconcat": [
                {
                  "width": 392, "height": 254,
                  "title": {"text": "Hip Flex-Extension (deg)", "fontSize": 32, "color": "#1b1b1b", "anchor": "middle", "frame": "group", "offset": -6},
                  "layer": [
                    {"data": {"name": "hip_norm"}, "mark": {"type": "area", "color": "#cbcbcb", "opacity": 0.9, "interpolate": "monotone"},
                     "encoding": {
                       "x": {"field": "x", "type": "quantitative", "title": null, "scale": {"domain": [0, 100], "nice": false}, "axis": {"values": [0, 20, 40, 60, 80, 100], "tickCount": 20, "labelFontSize": 15, "tickSize": 3, "labelPadding": 8, "labelFlush": false}},
                       "y": {"field": "lo", "type": "quantitative", "title": null, "scale": {"domain": [-20, 60], "nice": false}, "axis": {"values": [60, 50, 40, 30, 20, 10, 0, -10, -20], "tickCount": 20, "labelFontSize": 17, "tickSize": 3, "labelPadding": 6, "minExtent": 45}},
                       "y2": {"field": "hi"}}},
                    {"data": {"name": "hip_norm"}, "mark": {"type": "line", "color": "#8c8c8c", "strokeWidth": 1, "interpolate": "monotone"},
                     "encoding": {"x": {"field": "x", "type": "quantitative", "title": null}, "y": {"field": "mean", "type": "quantitative", "title": null}}},
                    {"data": {"values": [{"ref": 10}]}, "mark": {"type": "rule", "color": "#efa3b5", "strokeWidth": 1.5},
                     "encoding": {"y": {"field": "ref", "type": "quantitative", "title": null}}},
                    {"data": {"values": [{"ref": 0}]}, "mark": {"type": "rule", "color": "#8fd3c3", "strokeWidth": 1.5},
                     "encoding": {"y": {"field": "ref", "type": "quantitative", "title": null}}},
                    {"data": {"name": "events"}, "mark": {"type": "rule", "strokeDash": [8, 6], "strokeWidth": 2.5, "opacity": 0.85},
                     "encoding": {"x": {"field": "pct", "type": "quantitative", "title": null}, "color": {"field": "side", "type": "nominal", "scale": {"domain": ["Left", "Right"], "range": ["#c41e4e", "#1a6e40"]}, "legend": null}}},
                    {"data": {"name": "hip_sides"}, "mark": {"type": "line", "strokeWidth": 4, "interpolate": "monotone"},
                     "encoding": {"x": {"field": "x", "type": "quantitative", "title": null}, "y": {"field": "deg", "type": "quantitative", "title": null},
                       "color": {"field": "side", "type": "nominal", "scale": {"domain": ["Left", "Right"], "range": ["#c41e4e", "#1a6e40"]}, "legend": null}}},
                    {"data": {"values": [{"label": "Flex"}]}, "mark": {"type": "text", "align": "right", "baseline": "middle", "fontSize": 16, "font": "Open Sans", "color": "#555555"},
                     "encoding": {"x": {"datum": 99, "title": null}, "y": {"datum": 52, "title": null}, "text": {"field": "label"}}},
                    {"data": {"values": [{"label": "Ext"}]}, "mark": {"type": "text", "align": "right", "baseline": "middle", "fontSize": 16, "font": "Open Sans", "color": "#444444"},
                     "encoding": {"x": {"datum": 99, "title": null}, "y": {"datum": -14.2, "title": null}, "text": {"field": "label"}}},
                    {"data": {"values": [{"end": "x"}]}, "mark": {"type": "square", "size": 40, "color": "#111111", "opacity": 1},
                     "encoding": {"x": {"datum": 100, "title": null}, "y": {"datum": -20, "title": null}}},
                    {"data": {"values": [{"end": "y"}]}, "mark": {"type": "square", "size": 40, "color": "#111111", "opacity": 1},
                     "encoding": {"x": {"datum": 0, "title": null}, "y": {"datum": 60, "title": null}}}
                  ]
                }
              ]
            }
          ]
        }
      ]
    }
  ]
}
